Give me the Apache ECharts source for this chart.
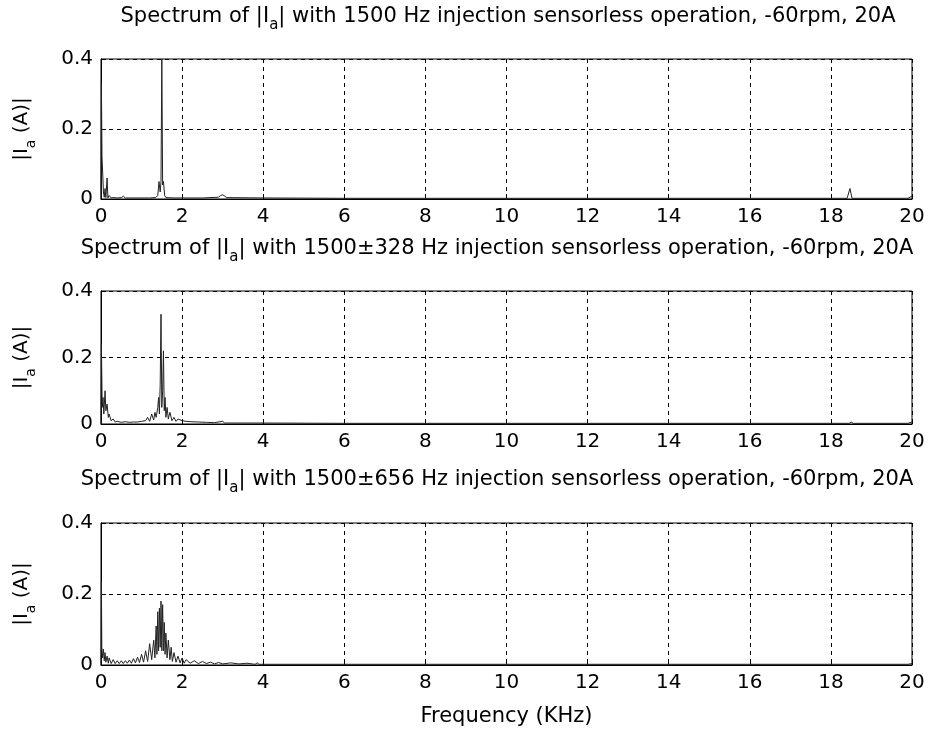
<!DOCTYPE html>
<html><head><meta charset="utf-8">
<script src="https://cdn.jsdelivr.net/npm/echarts@6/dist/echarts.min.js"></script>
<style>html,body{margin:0;padding:0;background:#fff}#c{width:931px;height:733px}</style>
</head><body><div id="c"></div>
<script>
// ---- data (frequency in kHz, amplitude in A) ----
const xTicks = [0, 2, 4, 6, 8, 10, 12, 14, 16, 18, 20];
const yTicks = [0, 0.2, 0.4];

const freq1 = [0, 0.01, 0.025, 0.04, 0.06, 0.08, 0.1, 0.12, 0.15, 0.17, 0.2, 0.25, 0.3, 0.4, 0.5, 0.55, 0.6, 0.8, 1.0, 1.2, 1.35, 1.4, 1.43, 1.46, 1.48, 1.5, 1.52, 1.54, 1.57, 1.6, 1.8, 2.0, 2.5, 2.9, 2.95, 3.0, 3.05, 3.1, 4, 6, 8, 10, 12, 14, 16, 18, 18.4, 18.47, 18.52, 19.9, 20];
const amp1  = [0, 0.33, 0.12, 0.08, 0.02, 0.005, 0.03, 0.004, 0.06, 0.003, 0.01, 0.003, 0.004, 0.003, 0.004, 0.008, 0.003, 0.003, 0.003, 0.003, 0.004, 0.01, 0.05, 0.02, 0.05, 0.40, 0.04, 0.05, 0.01, 0.004, 0.003, 0.003, 0.003, 0.005, 0.01, 0.012, 0.008, 0.004, 0.003, 0.002, 0.002, 0.002, 0.002, 0.002, 0.002, 0.002, 0.002, 0.03, 0.002, 0.002, 0.008];

const freq2 = [0, 0.01, 0.03, 0.05, 0.07, 0.1, 0.12, 0.15, 0.18, 0.2, 0.25, 0.3, 0.35, 0.4, 0.5, 0.6, 0.7, 0.8, 0.9, 1.0, 1.1, 1.15, 1.2, 1.25, 1.3, 1.33, 1.36, 1.4, 1.42, 1.44, 1.46, 1.48, 1.5, 1.52, 1.54, 1.56, 1.58, 1.6, 1.63, 1.66, 1.7, 1.75, 1.8, 1.85, 1.9, 2.0, 2.1, 2.2, 2.4, 2.6, 2.8, 3.0, 3.05, 3.5, 4, 6, 8, 10, 12, 14, 16, 18, 18.45, 18.5, 18.55, 19.9, 20];
const amp2  = [0, 0.24, 0.05, 0.08, 0.03, 0.10, 0.04, 0.06, 0.02, 0.03, 0.01, 0.015, 0.006, 0.008, 0.005, 0.007, 0.005, 0.006, 0.006, 0.008, 0.01, 0.02, 0.008, 0.03, 0.012, 0.035, 0.02, 0.05, 0.08, 0.03, 0.12, 0.33, 0.05, 0.10, 0.22, 0.04, 0.08, 0.02, 0.05, 0.015, 0.035, 0.01, 0.02, 0.008, 0.015, 0.01, 0.008, 0.007, 0.006, 0.005, 0.004, 0.008, 0.003, 0.003, 0.003, 0.002, 0.002, 0.002, 0.002, 0.002, 0.002, 0.002, 0.002, 0.006, 0.002, 0.002, 0.006];

const freq3 = [0, 0.01, 0.02, 0.04, 0.06, 0.08, 0.1, 0.12, 0.15, 0.18, 0.2, 0.25, 0.3, 0.35, 0.4, 0.45, 0.5, 0.55, 0.6, 0.65, 0.7, 0.75, 0.8, 0.85, 0.9, 0.95, 1.0, 1.05, 1.1, 1.15, 1.2, 1.25, 1.3, 1.33, 1.36, 1.38, 1.4, 1.42, 1.44, 1.46, 1.48, 1.5, 1.52, 1.54, 1.56, 1.58, 1.6, 1.63, 1.66, 1.7, 1.73, 1.76, 1.8, 1.85, 1.9, 1.95, 2.0, 2.05, 2.1, 2.2, 2.3, 2.4, 2.5, 2.6, 2.7, 2.8, 2.9, 3.0, 3.2, 3.4, 3.6, 3.8, 3.85, 3.9, 4.0, 6, 8, 10, 12, 14, 16, 18, 19.9, 20];
const amp3  = [0, 0.235, 0.05, 0.02, 0.045, 0.012, 0.035, 0.008, 0.025, 0.005, 0.02, 0.004, 0.015, 0.004, 0.012, 0.004, 0.012, 0.004, 0.012, 0.005, 0.014, 0.005, 0.018, 0.006, 0.022, 0.007, 0.03, 0.008, 0.04, 0.01, 0.06, 0.015, 0.07, 0.02, 0.11, 0.03, 0.15, 0.04, 0.16, 0.05, 0.18, 0.04, 0.17, 0.04, 0.12, 0.03, 0.09, 0.02, 0.07, 0.015, 0.05, 0.01, 0.035, 0.008, 0.025, 0.006, 0.02, 0.005, 0.015, 0.005, 0.012, 0.004, 0.01, 0.004, 0.008, 0.003, 0.007, 0.003, 0.006, 0.003, 0.005, 0.002, 0.006, 0.002, 0.002, 0.002, 0.002, 0.002, 0.002, 0.002, 0.002, 0.002, 0.002, 0.004];

const titles = [
  ['Spectrum of |I', 'a', '| with 1500 Hz injection sensorless operation, -60rpm, 20A'],
  ['Spectrum of |I', 'a', '| with 1500\u00B1328 Hz injection sensorless operation, -60rpm, 20A'],
  ['Spectrum of |I', 'a', '| with 1500\u00B1656 Hz injection sensorless operation, -60rpm, 20A']
];
const yName = ['|I', 'a', ' (A)|'];
const xName = 'Frequency (KHz)';

// ---- layout ----
const FONT = '"DejaVu Sans", "Liberation Sans", sans-serif';
const grids = [
  {left: 101, right: 19, top: 59, height: 140},
  {left: 101, right: 19, top: 291, height: 133},
  {left: 101, right: 19, top: 523, height: 142}
];
const titleY = [1, 233, 464];
const titleX = [508, 497, 497];
const freqs = [freq1, freq2, freq3];
const amps = [amp1, amp2, amp3];

function richStyle(size) {
  return {
    n: {fontSize: size, fontFamily: FONT, fontWeight: 'normal', color: '#000', lineHeight: 24, verticalAlign: 'middle'},
    s: {fontSize: Math.round(size * 0.72), fontFamily: FONT, fontWeight: 'normal', color: '#000', lineHeight: 32, verticalAlign: 'bottom'}
  };
}

function rich(parts) { return '{n|' + parts[0] + '}{s|' + parts[1] + '}{n|' + parts[2] + '}'; }

const option = {
  animation: false,
  backgroundColor: '#fff',
  title: titles.map((t, i) => ({
    text: rich(t), left: titleX[i], top: titleY[i], textAlign: 'center', padding: 0,
    textStyle: {fontWeight: 'normal', rich: richStyle(21)}
  })),
  grid: grids.map(g => Object.assign({show: true, borderColor: '#000', borderWidth: 1, backgroundColor: '#fff'}, g)),
  xAxis: grids.map((g, i) => ({
    type: 'value', gridIndex: i, min: xTicks[0], max: xTicks[xTicks.length - 1], interval: 2,
    axisLine: {show: true, lineStyle: {color: '#000', width: 1}},
    axisTick: {show: true, inside: true, length: 5, lineStyle: {color: '#000'}},
    axisLabel: {color: '#000', fontSize: 20, fontFamily: FONT, margin: 8},
    splitLine: {show: true, lineStyle: {color: '#000', type: [4, 4], width: 1}},
    name: i === 2 ? xName : '', nameLocation: 'middle', nameGap: 41,
    nameTextStyle: {color: '#000', fontSize: 21, fontFamily: FONT}
  })),
  yAxis: grids.map((g, i) => ({
    type: 'value', gridIndex: i, min: yTicks[0], max: yTicks[yTicks.length - 1], interval: 0.2,
    axisLine: {show: true, lineStyle: {color: '#000', width: 1}},
    axisTick: {show: true, inside: true, length: 5, lineStyle: {color: '#000'}},
    axisLabel: {color: '#000', fontSize: 20, fontFamily: FONT, margin: 8,
      formatter: v => v === 0 ? '0' : v.toFixed(1)},
    splitLine: {show: true, lineStyle: {color: '#000', type: [4, 4], width: 1}},
    name: rich(yName), nameLocation: 'middle', nameRotate: 90, nameGap: 63,
    nameTextStyle: {rich: richStyle(20)}
  })),
  series: amps.map((a, i) => ({
    type: 'line', xAxisIndex: i, yAxisIndex: i, symbol: 'none',
    lineStyle: {color: '#222', width: 1},
    data: freqs[i].map((f, k) => [f, a[k]])
  }))
};

echarts.init(document.getElementById('c'), null, {renderer: 'canvas'}).setOption(option);
</script>
</body></html>
